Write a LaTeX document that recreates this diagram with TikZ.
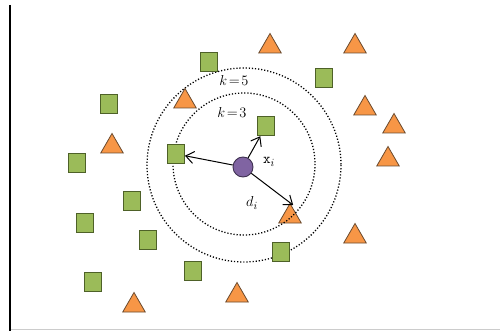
\documentclass[tikz,border=0pt]{standalone}
\usetikzlibrary{shapes.geometric,arrows.meta}
\definecolor{sqfill}{HTML}{9BBB59}
\definecolor{sqdraw}{HTML}{4E6128}
\definecolor{trfill}{HTML}{F79646}
\definecolor{trdraw}{HTML}{6B4A2E}
\definecolor{pufill}{HTML}{8064A2}
\definecolor{pudraw}{HTML}{3F3151}
\begin{document}
\begin{tikzpicture}[x=1pt,y=-1pt,
  sq/.style={draw=sqdraw,fill=sqfill,line width=0.9pt,minimum width=17pt,minimum height=19.5pt,inner sep=0pt},
  tri/.style={draw=trdraw,fill=trfill,line width=0.8pt,regular polygon,regular polygon sides=3,minimum size=26pt,inner sep=0pt},
  query/.style={draw=pudraw,fill=pufill,line width=0.9pt,circle,minimum size=20pt,inner sep=0pt},
  ring/.style={line width=1.3pt,dash pattern=on 1.2pt off 1.9pt},
  link/.style={line width=1pt,-{Straight Barb[length=8pt,width=12pt,line width=1pt]}},
  lbl/.style={font=\fontsize{13.5}{16}\selectfont,inner sep=0pt},
  sub/.style={font=\fontsize{15}{18}\selectfont,inner sep=0pt}]
\useasboundingbox (0,0) rectangle (500,331);
\fill[white] (0,0) rectangle (500,331);
% axes
\coordinate (ytop) at (9.5,5);
\coordinate (ybot) at (9.5,331);
\coordinate (xl) at (9.5,329.5);
\coordinate (xr) at (500,329.5);
\draw[black!20,line width=1.5pt] (xl) -- (xr);
\draw[black,line width=2pt] (ytop) -- (ybot);
% triangle lying under the inner ring
\node[tri] (t8) at (290,216.5) {};
% rings
\coordinate (c) at (244,164);
\draw[ring] (c) circle[radius=71];
\draw[ring] (244,165) circle[radius=97];
% squares
\node[sq] (s1) at (209,62) {};
\node[sq] (s2) at (109,104) {};
\node[sq] (s3) at (77,163) {};
\node[sq] (s4) at (176,154) {};
\node[sq] (s5) at (266,126) {};
\node[sq] (s6) at (324,78) {};
\node[sq] (s7) at (132,201) {};
\node[sq] (s8) at (85,223) {};
\node[sq] (s9) at (148,240) {};
\node[sq] (s10) at (93,282) {};
\node[sq] (s11) at (193,271) {};
\node[sq] (s12) at (281,252) {};
% triangles
\node[tri] (t1) at (270,46.5) {};
\node[tri] (t2) at (355,46.5) {};
\node[tri] (t3) at (185,101.5) {};
\node[tri] (t4) at (112,146.5) {};
\node[tri] (t5) at (365,108.5) {};
\node[tri] (t6) at (394,126.5) {};
\node[tri] (t7) at (388,159.5) {};
\node[tri] (t9) at (355,236.5) {};
\node[tri] (t10) at (134,305.5) {};
\node[tri] (t11) at (237,295.5) {};
% query point
\node[query] (q) at (243,167) {};
\draw[link] (q) -- (s4);
\draw[link] (q) -- (s5);
\draw[link,shorten >=-4pt] (q) -- (t8.north);
% labels
\node[lbl] (k5) at (234,81) {$k\!=\!5$};
\node[lbl] (k3) at (232,113) {$k\!=\!3$};
\node[sub] (xi) at (269,162) {$\mathtt{x}_i$};
\node[sub] (di) at (252,203) {$d_i$};
\end{tikzpicture}
\end{document}
